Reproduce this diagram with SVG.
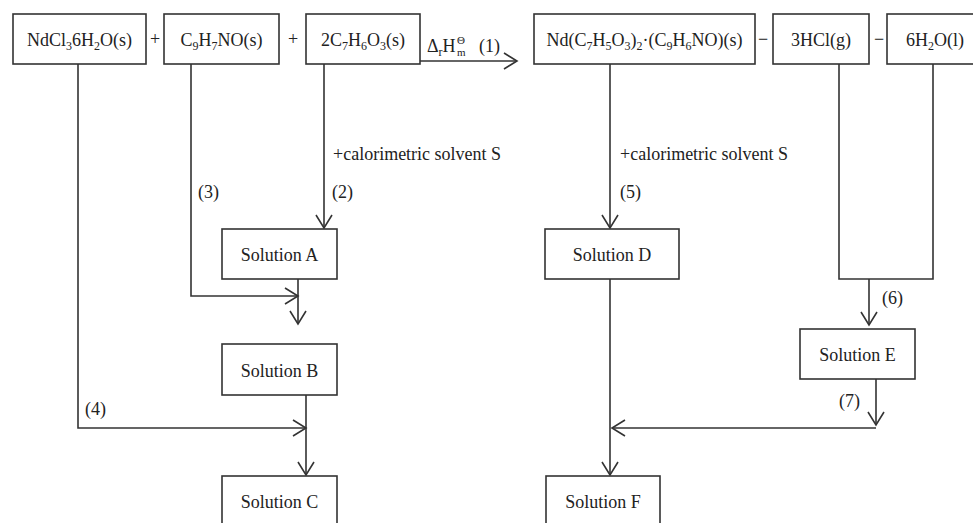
<svg xmlns="http://www.w3.org/2000/svg" width="973" height="523" viewBox="0 0 973 523">
<style>
.box{fill:#fff;stroke:#333;stroke-width:1.6}
.t{font-family:"Liberation Serif","Times New Roman",serif;font-size:18px;fill:#222;text-anchor:middle}
.l{font-family:"Liberation Serif","Times New Roman",serif;font-size:18px;fill:#222}
.s{font-size:12px}
.c{fill:none;stroke:#333;stroke-width:1.6}
</style>
<defs>
<marker id="ah" markerUnits="userSpaceOnUse" markerWidth="20" markerHeight="20" refX="0" refY="0" viewBox="-15 -10 20 20" orient="auto" overflow="visible">
<path d="M-13,-8 L0,0 L-13,8" fill="none" stroke="#333" stroke-width="1.6"/>
</marker>
</defs>
<rect width="973" height="523" fill="#fff"/>
<g id="connectors">
<path class="c" d="M420,61 H517" marker-end="url(#ah)"/>
<path class="c" d="M324,64 V228" marker-end="url(#ah)"/>
<path class="c" d="M191,64 V296 H298" marker-end="url(#ah)"/>
<path class="c" d="M298,279 V324" marker-end="url(#ah)"/>
<path class="c" d="M78,64 V428 H306" marker-end="url(#ah)"/>
<path class="c" d="M306,395 V475" marker-end="url(#ah)"/>
<path class="c" d="M610,64 V228" marker-end="url(#ah)"/>
<path class="c" d="M839,64 V279 H933 V64"/>
<path class="c" d="M869,279 V325" marker-end="url(#ah)"/>
<path class="c" d="M876,379 V425" marker-end="url(#ah)"/>
<path class="c" d="M876,428 H612" marker-end="url(#ah)"/>
<path class="c" d="M610,279 V475" marker-end="url(#ah)"/>
</g>
<g id="labels">
<text class="l" x="427" y="52">Δ<tspan class="s" dy="4">r</tspan><tspan dy="-4">H</tspan></text>
<text class="l" x="457" y="56" style="font-size:11px">m</text>
<text class="l" x="457" y="44" style="font-size:11px">Θ</text>
<text class="l" x="479" y="52">(1)</text>
<text class="l" x="333" y="160">+calorimetric solvent S</text>
<text class="l" x="620" y="160">+calorimetric solvent S</text>
<text class="l" x="198" y="198">(3)</text>
<text class="l" x="332" y="198">(2)</text>
<text class="l" x="620" y="198">(5)</text>
<text class="l" x="85" y="415">(4)</text>
<text class="l" x="882" y="304">(6)</text>
<text class="l" x="839" y="407">(7)</text>
<text class="t" x="155" y="45">+</text>
<text class="t" x="293" y="45">+</text>
<text class="t" x="763" y="45">−</text>
<text class="t" x="879" y="45">−</text>
</g>
<g id="n1"><rect class="box" x="13" y="14" width="133" height="50"/>
<text class="t" x="79.5" y="46">NdCl<tspan class="s" dy="4">3</tspan><tspan dy="-4">6H</tspan><tspan class="s" dy="4">2</tspan><tspan dy="-4">O(s)</tspan></text></g>
<g id="n2"><rect class="box" x="164" y="14" width="115" height="50"/>
<text class="t" x="221.5" y="46">C<tspan class="s" dy="4">9</tspan><tspan dy="-4">H</tspan><tspan class="s" dy="4">7</tspan><tspan dy="-4">NO(s)</tspan></text></g>
<g id="n3"><rect class="box" x="306" y="14" width="114" height="50"/>
<text class="t" x="363" y="46">2C<tspan class="s" dy="4">7</tspan><tspan dy="-4">H</tspan><tspan class="s" dy="4">6</tspan><tspan dy="-4">O</tspan><tspan class="s" dy="4">3</tspan><tspan dy="-4">(s)</tspan></text></g>
<g id="n4"><rect class="box" x="534" y="14" width="221" height="50"/>
<text class="t" x="644.5" y="46">Nd(C<tspan class="s" dy="4">7</tspan><tspan dy="-4">H</tspan><tspan class="s" dy="4">5</tspan><tspan dy="-4">O</tspan><tspan class="s" dy="4">3</tspan><tspan dy="-4">)</tspan><tspan class="s" dy="4">2</tspan><tspan dy="-4">·(C</tspan><tspan class="s" dy="4">9</tspan><tspan dy="-4">H</tspan><tspan class="s" dy="4">6</tspan><tspan dy="-4">NO)(s)</tspan></text></g>
<g id="n5"><rect class="box" x="773" y="14" width="96" height="50"/>
<text class="t" x="821" y="46">3HCl(g)</text></g>
<g id="n6"><rect class="box" x="887" y="14" width="96" height="50"/>
<text class="t" x="935" y="46">6H<tspan class="s" dy="4">2</tspan><tspan dy="-4">O(l)</tspan></text></g>
<g id="nA"><rect class="box" x="222" y="229" width="115" height="50"/>
<text class="t" x="279.5" y="261">Solution A</text></g>
<g id="nB"><rect class="box" x="222" y="344" width="115" height="51"/>
<text class="t" x="279.5" y="377">Solution B</text></g>
<g id="nC"><rect class="box" x="222" y="476" width="115" height="60"/>
<text class="t" x="279.5" y="508">Solution C</text></g>
<g id="nD"><rect class="box" x="545" y="229" width="134" height="50"/>
<text class="t" x="612" y="261">Solution D</text></g>
<g id="nE"><rect class="box" x="800" y="329" width="115" height="50"/>
<text class="t" x="857.5" y="361">Solution E</text></g>
<g id="nF"><rect class="box" x="546" y="476" width="114" height="60"/>
<text class="t" x="603" y="508">Solution F</text></g>
</svg>
